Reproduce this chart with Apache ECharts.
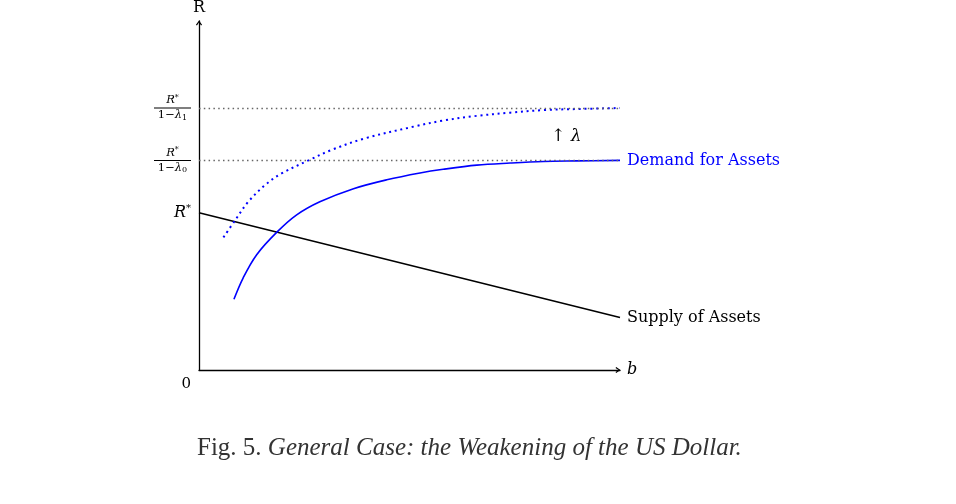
<!DOCTYPE html>
<html>
<head>
<meta charset="utf-8">
<script src="https://cdn.jsdelivr.net/npm/echarts@6/dist/echarts.min.js"></script>
<style>
  html, body { margin: 0; padding: 0; background: #fff; }
  #chart { width: 956px; height: 504px; }
</style>
</head>
<body>
<div id="chart"></div>
<script>
// values (b on x, R on y)
const supplyPts = [[0, 3], [10, 1]];
const demandPts = [
  [0.83, 1.35], [1.05, 1.76], [1.37, 2.20], [1.85, 2.63], [2.32, 2.96],
  [2.87, 3.21], [3.67, 3.46], [4.46, 3.63], [5.25, 3.76], [5.80, 3.83],
  [6.60, 3.91], [7.39, 3.95], [8.18, 3.98], [8.97, 3.99], [10, 4.0]
];
const demandHighPts = [
  [0.58, 2.53], [0.86, 2.86], [1.17, 3.21], [1.57, 3.53], [1.96, 3.75],
  [2.60, 4.00], [3.15, 4.20], [3.94, 4.42], [5.13, 4.65], [5.80, 4.76],
  [6.60, 4.85], [7.39, 4.91], [8.18, 4.96], [8.97, 4.98], [10, 5.0]
];
const rStar = 3;
const rLevels = [4, 5]; // R*/(1-λ0), R*/(1-λ1)
const yTicks = [3, 4, 5];

const serif = 'DejaVu Serif';
// open arrow head, like the tikz "->"
const arrowPath = 'path://M5,0 L10,7 L8.4,8.2 L5,3.2 L1.6,8.2 L0,7 Z';

const chart = echarts.init(document.getElementById('chart'));

const fracRich = {
  n: { fontFamily: serif, fontStyle: 'italic', fontSize: 11.5, align: 'center', lineHeight: 13, color: '#000' },
  ns: { fontFamily: serif, fontSize: 8, align: 'center', verticalAlign: 'top', lineHeight: 13, color: '#000' },
  bar: { width: 37, height: 1, lineHeight: 2, fontSize: 1, backgroundColor: '#000', align: 'center' },
  d: { fontFamily: serif, fontSize: 11.5, align: 'center', lineHeight: 13, color: '#000' },
  di: { fontFamily: serif, fontStyle: 'italic', fontSize: 11.5, align: 'center', lineHeight: 13, color: '#000' },
  ds: { fontFamily: serif, fontSize: 8, align: 'center', verticalAlign: 'bottom', lineHeight: 13, color: '#000' },
  r: { fontFamily: serif, fontStyle: 'italic', fontSize: 16, color: '#000', lineHeight: 18 },
  rs: { fontFamily: serif, fontSize: 10, color: '#000', verticalAlign: 'top', lineHeight: 18 }
};

chart.setOption({
  animation: false,
  backgroundColor: '#fff',
  title: {
    text: '{a|Fig. 5. }{b|General Case: the Weakening of the US Dollar.}',
    left: 192,
    top: 431,
    textStyle: {
      rich: {
        a: { fontFamily: 'Liberation Serif', fontWeight: 'normal', fontSize: 25, color: '#333' },
        b: { fontFamily: 'Liberation Serif', fontWeight: 'normal', fontStyle: 'italic', fontSize: 25, color: '#333' }
      }
    }
  },
  grid: { left: 199, right: 336, top: 18, bottom: 134 },
  xAxis: {
    type: 'value',
    min: 0,
    max: 10,
    name: 'b',
    nameLocation: 'end',
    nameGap: 7,
    nameTextStyle: { fontFamily: serif, fontStyle: 'italic', fontSize: 16, color: '#000' },
    axisLine: {
      lineStyle: { color: '#000', width: 1.3 },
      symbol: ['none', arrowPath],
      symbolSize: [8, 5],
      symbolOffset: [0, -2]
    },
    axisTick: { show: false },
    splitLine: { show: false },
    axisLabel: {
      customValues: [0],
      formatter: () => '0',
      fontFamily: serif,
      fontSize: 15,
      color: '#000',
      align: 'right',
      margin: 7,
      padding: [0, 8, 0, 0]
    }
  },
  yAxis: {
    type: 'value',
    min: 0,
    max: 6.66,
    name: 'R',
    nameLocation: 'end',
    nameGap: 5,
    nameTextStyle: { fontFamily: serif, fontSize: 16, color: '#000' },
    axisLine: {
      show: true,
      lineStyle: { color: '#000', width: 1.3 },
      symbol: ['none', arrowPath],
      symbolSize: [8, 5],
      symbolOffset: [0, -2]
    },
    axisTick: { show: false },
    splitLine: { show: false },
    axisLabel: {
      customValues: yTicks,
      margin: 8,
      formatter: (v) => {
        if (v === rStar) return '{r|R}{rs|*}';
        const sub = v === rLevels[0] ? '0' : '1';
        return '{n|R}{ns|*}\n{bar| }\n{d|1−}{di|λ}{ds|' + sub + '}';
      },
      rich: fracRich
    }
  },
  graphic: [
    {
      type: 'text',
      left: 551,
      top: 128,
      style: {
        text: '↑ λ',
        font: 'italic 17px "DejaVu Serif"',
        fill: '#000'
      }
    }
  ],
  series: [
    {
      name: 'Supply of Assets',
      type: 'line',
      data: supplyPts,
      symbol: 'none',
      lineStyle: { color: '#000', width: 1.5 },
      endLabel: {
        show: true,
        formatter: 'Supply of Assets',
        distance: 7,
        fontFamily: serif,
        fontSize: 16,
        color: '#000'
      }
    },
    {
      name: 'Demand for Assets',
      type: 'line',
      data: demandPts,
      smooth: 0.35,
      symbol: 'none',
      lineStyle: { color: '#0000ff', width: 1.6 },
      endLabel: {
        show: true,
        formatter: 'Demand for Assets',
        distance: 7,
        fontFamily: serif,
        fontSize: 16,
        color: '#0000ff'
      }
    },
    {
      name: 'Demand (higher λ)',
      type: 'line',
      data: demandHighPts,
      smooth: 0.35,
      symbol: 'none',
      lineStyle: { color: '#0000ff', width: 2, type: [2, 3.8] },
      markLine: {
        silent: true,
        symbol: ['none', 'none'],
        label: { show: false },
        lineStyle: { color: '#666', width: 1.3, type: [1.5, 3.3] },
        data: rLevels.map(v => ({ yAxis: v }))
      }
    }
  ]
});
</script>
</body>
</html>
